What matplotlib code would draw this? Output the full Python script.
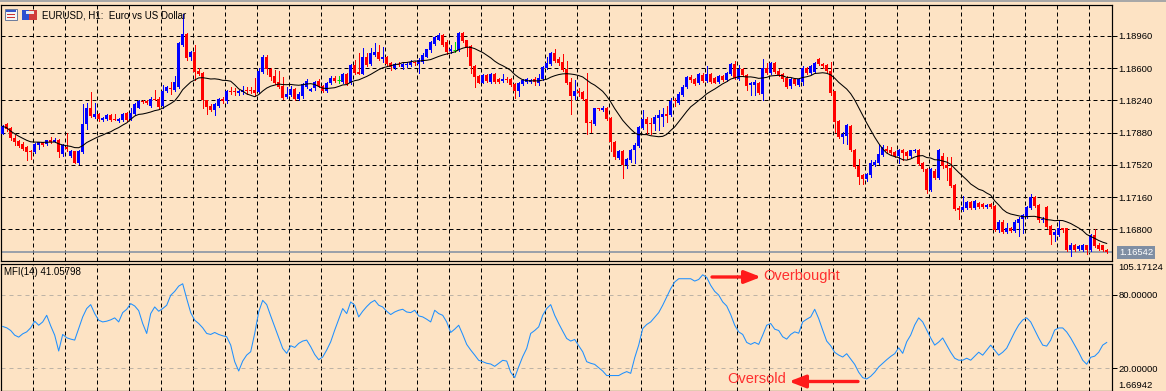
import numpy as np
import pandas as pd
import matplotlib
matplotlib.use("Agg")
import matplotlib.pyplot as plt
from matplotlib.patches import Rectangle

plt.rcParams['font.family'] = ['Liberation Sans', 'DejaVu Sans']

# ---------------- data (EURUSD H1) ----------------
opens = [
 1.1787,1.1798,1.1793,1.1782,1.1779,1.1775,1.1772,1.1767,1.1766,1.1774,
 1.1777,1.1775,1.1780,1.1778,1.1780,1.1764,1.1772,1.1762,1.1767,1.1754,
 1.1766,1.1798,1.1816,1.1805,1.1809,1.1802,1.1803,1.1808,1.1803,1.1801,
 1.1802,1.1810,1.1803,1.1809,1.1816,1.1823,1.1823,1.1818,1.1826,1.1826,
 1.1818,1.1834,1.1838,1.1836,1.1839,1.1886,1.1898,1.1872,1.1878,1.1857,
 1.1855,1.1824,1.1818,1.1813,1.1818,1.1826,1.1823,1.1835,1.1834,1.1832,
 1.1833,1.1836,1.1836,1.1836,1.1833,1.1856,1.1873,1.1859,1.1851,1.1845,
 1.1840,1.1828,1.1830,1.1837,1.1826,1.1829,1.1839,1.1835,1.1838,1.1846,
 1.1840,1.1834,1.1843,1.1849,1.1847,1.1845,1.1854,1.1843,1.1864,1.1856,
 1.1854,1.1873,1.1865,1.1875,1.1878,1.1870,1.1873,1.1866,1.1860,1.1865,
 1.1861,1.1864,1.1864,1.1867,1.1865,1.1867,1.1873,1.1880,1.1887,1.1892,
 1.1897,1.1889,1.1879,1.1880,1.1880,1.1899,1.1891,1.1885,1.1862,1.1851,
 1.1844,1.1852,1.1845,1.1854,1.1848,1.1846,1.1848,1.1848,1.1842,1.1834,
 1.1842,1.1845,1.1845,1.1848,1.1844,1.1848,1.1860,1.1865,1.1877,1.1870,
 1.1867,1.1859,1.1845,1.1829,1.1835,1.1833,1.1826,1.1800,1.1798,1.1815,
 1.1813,1.1816,1.1804,1.1778,1.1760,1.1768,1.1752,1.1757,1.1769,1.1773,
 1.1793,1.1803,1.1799,1.1798,1.1804,1.1806,1.1809,1.1808,1.1824,1.1821,
 1.1830,1.1839,1.1850,1.1848,1.1843,1.1852,1.1846,1.1854,1.1849,1.1845,
 1.1851,1.1847,1.1854,1.1865,1.1848,1.1859,1.1852,1.1841,1.1841,1.1844,
 1.1831,1.1860,1.1855,1.1866,1.1857,1.1854,1.1849,1.1840,1.1848,1.1841,
 1.1845,1.1860,1.1855,1.1856,1.1870,1.1865,1.1864,1.1857,1.1834,1.1801,
 1.1783,1.1784,1.1795,1.1769,1.1751,1.1741,1.1736,1.1741,1.1752,1.1754,
 1.1763,1.1770,1.1769,1.1766,1.1762,1.1769,1.1766,1.1762,1.1767,1.1769,
 1.1754,1.1747,1.1724,1.1745,1.1737,1.1762,1.1752,1.1749,1.1729,1.1704,
 1.1702,1.1704,1.1711,1.1704,1.1709,1.1708,1.1705,1.1708,1.1706,1.1679,
 1.1688,1.1677,1.1682,1.1678,1.1687,1.1691,1.1694,1.1704,1.1716,1.1707,
 1.1690,1.1705,1.1684,1.1674,1.1674,1.1681,1.1681,1.1657,1.1663,1.1658,
 1.1657,1.1662,1.1657,1.1674,1.1662,1.1662,1.1657]

highs = [
 1.1797,1.1799,1.1794,1.1785,1.1780,1.1777,1.1773,1.1769,1.1776,1.1778,
 1.1778,1.1780,1.1783,1.1782,1.1781,1.1775,1.1788,1.1769,1.1768,1.1769,
 1.1820,1.1821,1.1833,1.1821,1.1810,1.1805,1.1809,1.1809,1.1809,1.1804,
 1.1810,1.1811,1.1815,1.1821,1.1824,1.1824,1.1824,1.1828,1.1836,1.1828,
 1.1841,1.1840,1.1845,1.1851,1.1889,1.1920,1.1899,1.1879,1.1886,1.1860,
 1.1856,1.1825,1.1820,1.1821,1.1827,1.1828,1.1836,1.1839,1.1838,1.1836,
 1.1840,1.1839,1.1839,1.1849,1.1860,1.1875,1.1875,1.1860,1.1858,1.1857,
 1.1850,1.1839,1.1840,1.1838,1.1833,1.1844,1.1848,1.1838,1.1846,1.1848,
 1.1841,1.1845,1.1851,1.1851,1.1851,1.1855,1.1855,1.1865,1.1869,1.1877,
 1.1883,1.1877,1.1883,1.1888,1.1886,1.1884,1.1874,1.1867,1.1866,1.1867,
 1.1866,1.1867,1.1869,1.1868,1.1871,1.1877,1.1882,1.1890,1.1896,1.1899,
 1.1898,1.1891,1.1886,1.1889,1.1900,1.1900,1.1892,1.1886,1.1864,1.1852,
 1.1854,1.1854,1.1855,1.1855,1.1849,1.1853,1.1850,1.1849,1.1843,1.1845,
 1.1848,1.1849,1.1848,1.1850,1.1854,1.1862,1.1872,1.1878,1.1882,1.1872,
 1.1876,1.1868,1.1849,1.1847,1.1838,1.1834,1.1855,1.1802,1.1816,1.1816,
 1.1818,1.1817,1.1805,1.1779,1.1769,1.1769,1.1760,1.1770,1.1776,1.1795,
 1.1813,1.1805,1.1804,1.1808,1.1813,1.1816,1.1818,1.1827,1.1827,1.1833,
 1.1841,1.1851,1.1852,1.1849,1.1855,1.1855,1.1862,1.1855,1.1850,1.1852,
 1.1852,1.1856,1.1866,1.1868,1.1864,1.1860,1.1854,1.1845,1.1847,1.1845,
 1.1870,1.1866,1.1867,1.1867,1.1859,1.1855,1.1851,1.1849,1.1849,1.1849,
 1.1862,1.1861,1.1864,1.1867,1.1871,1.1866,1.1865,1.1867,1.1835,1.1802,
 1.1789,1.1798,1.1796,1.1770,1.1759,1.1742,1.1743,1.1757,1.1757,1.1774,
 1.1774,1.1773,1.1772,1.1767,1.1770,1.1770,1.1767,1.1769,1.1770,1.1770,
 1.1755,1.1748,1.1748,1.1747,1.1770,1.1765,1.1761,1.1761,1.1731,1.1706,
 1.1717,1.1712,1.1712,1.1713,1.1710,1.1709,1.1708,1.1709,1.1707,1.1690,
 1.1690,1.1687,1.1683,1.1690,1.1694,1.1697,1.1706,1.1719,1.1717,1.1708,
 1.1694,1.1706,1.1685,1.1679,1.1690,1.1682,1.1682,1.1665,1.1664,1.1662,
 1.1664,1.1663,1.1675,1.1680,1.1665,1.1663,1.1658]

lows = [
 1.1786,1.1790,1.1780,1.1774,1.1772,1.1769,1.1757,1.1758,1.1765,1.1770,
 1.1773,1.1774,1.1776,1.1777,1.1761,1.1762,1.1768,1.1761,1.1754,1.1753,
 1.1765,1.1792,1.1806,1.1804,1.1801,1.1801,1.1802,1.1801,1.1802,1.1800,
 1.1801,1.1801,1.1802,1.1808,1.1815,1.1821,1.1820,1.1817,1.1824,1.1815,
 1.1816,1.1833,1.1831,1.1835,1.1838,1.1885,1.1869,1.1869,1.1847,1.1852,
 1.1816,1.1809,1.1812,1.1808,1.1817,1.1821,1.1821,1.1831,1.1830,1.1830,
 1.1831,1.1831,1.1832,1.1829,1.1832,1.1855,1.1854,1.1847,1.1842,1.1838,
 1.1826,1.1827,1.1829,1.1825,1.1825,1.1827,1.1838,1.1834,1.1836,1.1839,
 1.1833,1.1833,1.1842,1.1845,1.1844,1.1844,1.1841,1.1842,1.1854,1.1853,
 1.1853,1.1862,1.1864,1.1874,1.1869,1.1867,1.1864,1.1858,1.1859,1.1862,
 1.1859,1.1861,1.1863,1.1864,1.1855,1.1866,1.1872,1.1878,1.1886,1.1891,
 1.1885,1.1876,1.1877,1.1878,1.1879,1.1889,1.1874,1.1855,1.1839,1.1843,
 1.1843,1.1845,1.1844,1.1844,1.1844,1.1845,1.1845,1.1840,1.1827,1.1829,
 1.1841,1.1844,1.1844,1.1841,1.1841,1.1847,1.1859,1.1864,1.1867,1.1864,
 1.1857,1.1842,1.1809,1.1826,1.1829,1.1825,1.1787,1.1789,1.1797,1.1813,
 1.1812,1.1802,1.1767,1.1759,1.1759,1.1737,1.1748,1.1755,1.1754,1.1772,
 1.1792,1.1787,1.1787,1.1791,1.1791,1.1795,1.1800,1.1807,1.1818,1.1820,
 1.1829,1.1838,1.1845,1.1841,1.1842,1.1845,1.1845,1.1844,1.1843,1.1844,
 1.1846,1.1846,1.1852,1.1848,1.1847,1.1851,1.1836,1.1830,1.1830,1.1831,
 1.1824,1.1854,1.1854,1.1855,1.1851,1.1846,1.1838,1.1838,1.1841,1.1840,
 1.1841,1.1854,1.1854,1.1855,1.1864,1.1860,1.1856,1.1830,1.1789,1.1782,
 1.1776,1.1775,1.1768,1.1748,1.1731,1.1731,1.1734,1.1739,1.1751,1.1753,
 1.1762,1.1765,1.1764,1.1761,1.1754,1.1757,1.1758,1.1761,1.1766,1.1752,
 1.1745,1.1721,1.1723,1.1736,1.1736,1.1749,1.1735,1.1727,1.1702,1.1691,
 1.1701,1.1703,1.1703,1.1703,1.1704,1.1704,1.1704,1.1704,1.1678,1.1677,
 1.1676,1.1676,1.1677,1.1677,1.1672,1.1676,1.1693,1.1703,1.1705,1.1688,
 1.1688,1.1682,1.1664,1.1667,1.1672,1.1677,1.1656,1.1650,1.1656,1.1657,
 1.1656,1.1652,1.1656,1.1660,1.1657,1.1656,1.1653]

closes = [
 1.1795,1.1792,1.1782,1.1778,1.1773,1.1770,1.1766,1.1766,1.1775,1.1777,
 1.1774,1.1780,1.1778,1.1780,1.1766,1.1774,1.1770,1.1768,1.1754,1.1768,
 1.1798,1.1815,1.1807,1.1809,1.1803,1.1804,1.1808,1.1802,1.1802,1.1803,
 1.1809,1.1802,1.1810,1.1820,1.1823,1.1822,1.1821,1.1826,1.1824,1.1817,
 1.1834,1.1839,1.1837,1.1845,1.1888,1.1898,1.1871,1.1878,1.1856,1.1854,
 1.1824,1.1817,1.1813,1.1820,1.1826,1.1823,1.1835,1.1833,1.1833,1.1834,
 1.1836,1.1834,1.1834,1.1832,1.1857,1.1873,1.1859,1.1850,1.1843,1.1839,
 1.1827,1.1831,1.1837,1.1826,1.1831,1.1842,1.1846,1.1837,1.1845,1.1840,
 1.1834,1.1844,1.1849,1.1846,1.1847,1.1854,1.1842,1.1864,1.1855,1.1854,
 1.1873,1.1864,1.1877,1.1878,1.1870,1.1873,1.1865,1.1861,1.1865,1.1864,
 1.1865,1.1865,1.1867,1.1866,1.1869,1.1875,1.1881,1.1889,1.1895,1.1897,
 1.1886,1.1878,1.1881,1.1880,1.1899,1.1890,1.1883,1.1862,1.1850,1.1844,
 1.1852,1.1846,1.1854,1.1845,1.1845,1.1848,1.1847,1.1841,1.1834,1.1844,
 1.1847,1.1848,1.1847,1.1845,1.1849,1.1861,1.1866,1.1877,1.1868,1.1866,
 1.1858,1.1844,1.1829,1.1835,1.1832,1.1826,1.1799,1.1799,1.1815,1.1814,
 1.1816,1.1803,1.1777,1.1761,1.1767,1.1752,1.1758,1.1769,1.1774,1.1794,
 1.1803,1.1798,1.1798,1.1806,1.1808,1.1809,1.1807,1.1823,1.1823,1.1831,
 1.1839,1.1850,1.1847,1.1842,1.1854,1.1846,1.1854,1.1845,1.1844,1.1851,
 1.1847,1.1855,1.1865,1.1849,1.1859,1.1852,1.1840,1.1843,1.1845,1.1832,
 1.1860,1.1855,1.1866,1.1856,1.1852,1.1848,1.1839,1.1848,1.1842,1.1848,
 1.1860,1.1855,1.1862,1.1866,1.1865,1.1862,1.1857,1.1832,1.1800,1.1783,
 1.1786,1.1796,1.1769,1.1750,1.1739,1.1736,1.1742,1.1754,1.1755,1.1764,
 1.1772,1.1767,1.1765,1.1762,1.1769,1.1765,1.1762,1.1769,1.1769,1.1753,
 1.1747,1.1724,1.1747,1.1737,1.1769,1.1751,1.1748,1.1728,1.1703,1.1702,
 1.1705,1.1711,1.1704,1.1712,1.1705,1.1705,1.1707,1.1705,1.1679,1.1688,
 1.1677,1.1681,1.1678,1.1688,1.1692,1.1696,1.1705,1.1716,1.1706,1.1690,
 1.1692,1.1683,1.1674,1.1677,1.1681,1.1679,1.1657,1.1663,1.1657,1.1661,
 1.1663,1.1657,1.1674,1.1661,1.1658,1.1657,1.16542]

mfi = [
 54.1,53.0,50.8,47.0,45.4,48.1,49.7,53.0,58.4,55.1,
 57.8,63.2,54.6,47.0,34.1,47.6,44.9,43.8,43.0,52.4,
 61.9,68.7,71.9,64.6,59.2,57.8,58.4,59.5,61.1,57.8,
 65.4,68.1,72.7,70.8,67.0,56.5,48.4,64.6,70.0,66.5,
 68.7,71.4,79.5,82.7,87.0,88.9,76.8,65.4,59.2,56.5,
 53.0,48.4,47.6,49.2,47.6,46.5,45.7,38.9,25.4,17.8,
 25.9,30.8,33.5,48.4,65.9,75.4,71.9,62.7,53.8,44.9,
 36.2,32.2,38.4,37.0,40.3,42.2,43.0,37.6,31.3,27.0,
 29.2,34.9,41.6,51.1,60.0,68.7,64.6,74.1,71.4,61.9,
 66.5,70.3,73.5,75.4,71.4,70.0,66.5,63.8,65.9,67.3,
 68.1,65.9,65.4,67.3,62.7,61.9,60.0,57.8,67.3,64.6,
 63.2,57.8,49.2,51.9,55.1,47.6,39.5,34.9,30.8,26.5,
 25.4,24.1,23.5,21.6,24.1,26.5,25.9,16.8,12.4,21.3,
 29.5,36.2,48.4,50.8,53.8,63.2,68.7,71.9,63.2,56.5,
 50.3,44.3,42.2,43.5,38.4,33.5,25.4,24.1,23.2,20.5,
 17.8,14.1,14.1,14.1,14.1,15.9,17.3,15.9,28.6,38.9,
 52.4,55.7,57.8,61.6,65.4,71.4,78.1,84.9,90.3,93.0,
 93.0,93.0,93.0,91.1,92.4,96.2,94.1,87.6,82.7,79.7,
 74.1,70.8,63.8,55.1,49.7,47.6,41.1,39.5,41.1,39.5,
 47.0,55.1,56.5,51.9,50.8,45.7,43.8,47.6,49.7,48.6,
 57.8,60.0,61.9,68.1,60.5,51.1,42.2,38.4,33.0,30.8,
 29.2,31.9,27.6,23.2,16.8,12.4,11.3,13.5,16.8,21.1,
 24.1,27.0,29.7,31.9,36.7,32.2,41.6,47.1,55.3,61.1,
 57.8,51.2,44.7,38.9,41.4,44.7,38.9,33.1,28.2,26.6,
 26.6,28.2,26.6,29.9,33.1,30.7,34.8,38.9,34.8,30.7,
 33.1,36.4,43.0,49.6,55.3,59.4,61.1,57.8,51.2,44.7,
 38.9,38.1,43.0,51.2,52.9,52.9,49.6,44.7,38.9,33.1,
 26.6,23.3,29.0,29.9,33.1,38.9,41.05798]

price_ticks = [1.16800, 1.17160, 1.17520, 1.17880, 1.18240, 1.18600, 1.18960]
mfi_levels = [20.0, 80.0]
mfi_min, mfi_max = 1.66942, 105.17124
last_price = 1.16542
ma_period = 14
title = "EURUSD, H1:  Euro vs US Dollar"
mfi_label = "MFI(14) 41.05798"

# ---------------- figure ----------------
W, H = 1166, 391
BG = '#FDE3C4'
fig = plt.figure(figsize=(W / 100, H / 100), dpi=100)
fig.patch.set_facecolor(BG)
PX = 0.72  # one pixel in points


def rect(l, t, r, b):
    return [l / W, 1 - b / H, (r - l) / W, (b - t) / H]


ax = fig.add_axes(rect(1, 5, 1112, 261))
axm = fig.add_axes(rect(1, 263.8, 1112, 390.8))

o = np.array(opens); h = np.array(highs); lo = np.array(lows); c = np.array(closes)
x = np.arange(len(c))
xlim = (-0.425, 277.325)
grid_x = np.arange(7.65, xlim[1], 8)
dash = (0, (4, 3))

for a in (ax, axm):
    a.set_facecolor(BG)
    a.set_xlim(*xlim)
    a.set_xticks([])
    for s in a.spines.values():
        s.set_color('black')
        s.set_linewidth(PX * 1.2)
    for gx in grid_x:
        a.axvline(gx, color='black', lw=PX, ls=dash, zorder=0.5)
    a.yaxis.tick_right()
    a.tick_params(axis='y', direction='out', length=3.6, width=PX, pad=1.2,
                  labelsize=6.8, colors='black')

# main price panel
ax.set_ylim(1.16446, 1.19306)
ax.set_yticks(price_ticks)
ax.set_yticklabels([f"{t:.5f}" for t in price_ticks])
for t in price_ticks:
    ax.axhline(t, color='black', lw=PX, ls=dash, zorder=0.5)

up = c > o
dn = c < o
dj = c == o
cols = np.where(up, '#0000FF', np.where(dn, '#FF0000', '#00E000'))
ax.vlines(x, lo, h, colors=cols, lw=PX, zorder=2, antialiased=False)
bb = np.minimum(o, c)
bh = np.maximum(np.abs(c - o), 0.00011)
m = ~dj
ax.bar(x[m], bh[m], bottom=bb[m], width=0.75, color=cols[m], linewidth=0,
       zorder=3, antialiased=False)
ax.hlines(c[dj], x[dj] - 0.45, x[dj] + 0.45, colors='#00E000', lw=PX, zorder=3)

ma = pd.Series(closes).rolling(ma_period, min_periods=1).mean()
ax.plot(x, ma, color='black', lw=0.75, zorder=4)

ax.axhline(last_price, color='#7F8EA3', lw=1.1, zorder=1.5)

# MFI panel
axm.set_ylim(mfi_min, mfi_max)
axm.set_yticks(mfi_levels)
axm.set_yticklabels([f"{v:.5f}" for v in mfi_levels])
for lv in mfi_levels:
    axm.axhline(lv, color='#BDB3A6', lw=PX, ls=(0, (4, 4)), zorder=0.6)
axm.plot(x, mfi, color='#1E90FF', lw=0.75, zorder=3)

# texts
fig.text(1118 / W, 1 - 267.5 / H, f"{mfi_max:.5f}", fontsize=6.8, va='center', ha='left')
fig.text(1118 / W, 1 - 385.5 / H, f"{mfi_min:.5f}", fontsize=6.8, va='center', ha='left')
fig.text(1119 / W, 1 - 252.5 / H, f"{last_price:.5f}", fontsize=6.8, va='center',
         ha='left', color='white',
         bbox=dict(boxstyle='square,pad=0.18', fc='#7F8EA3', ec='none'))

fig.text(42 / W, 1 - 15 / H, title, fontsize=7, va='center', ha='left')
fig.text(4 / W, 1 - 272 / H, mfi_label, fontsize=7, va='center', ha='left')

RED = '#FF2E2E'
fig.text(763 / W, 1 - 276 / H, "Overbought", fontsize=10.5, color=RED, va='center', ha='left')
fig.text(727 / W, 1 - 379 / H, "Oversold", fontsize=10.5, color=RED, va='center', ha='left')
fig.add_artist(plt.Annotation('', xy=(761 / W, 1 - 277 / H), xytext=(712 / W, 1 - 277 / H),
                              xycoords='figure fraction', textcoords='figure fraction',
                              arrowprops=dict(arrowstyle='-|>,head_length=0.9,head_width=0.35',
                                              color='#FF1A1A', lw=2.4,
                                              mutation_scale=11, shrinkA=0, shrinkB=0)))
fig.add_artist(plt.Annotation('', xy=(789 / W, 1 - 381.5 / H), xytext=(858 / W, 1 - 381.5 / H),
                              xycoords='figure fraction', textcoords='figure fraction',
                              arrowprops=dict(arrowstyle='-|>,head_length=0.9,head_width=0.35',
                                              color='#FF1A1A', lw=2.4,
                                              mutation_scale=11, shrinkA=0, shrinkB=0)))

# window top strip and small icons
fig.add_artist(Rectangle((0, 1 - 2 / H), 1, 2 / H, transform=fig.transFigure,
                         fc='#A8A8A8', ec='none'))


def prect(l, t, r, b, **kw):
    fig.add_artist(Rectangle((l / W, 1 - b / H), (r - l) / W, (b - t) / H,
                             transform=fig.transFigure, **kw))


prect(5, 9, 17, 20, fc='#F4F4F4', ec='#6A7A9A', lw=0.7)
prect(6, 10, 16, 12, fc='#3355CC', ec='none')
prect(7, 14, 15, 15, fc='#CC3333', ec='none')
prect(7, 17, 15, 18, fc='#CC3333', ec='none')
prect(22, 10, 29, 20, fc='#2E4FD0', ec='none')
prect(29, 10, 37, 20, fc='#D03A3A', ec='none')
prect(26, 11, 34, 14, fc='#E8E8E8', ec='none')

fig.savefig('out.png', dpi=100, facecolor=BG)
